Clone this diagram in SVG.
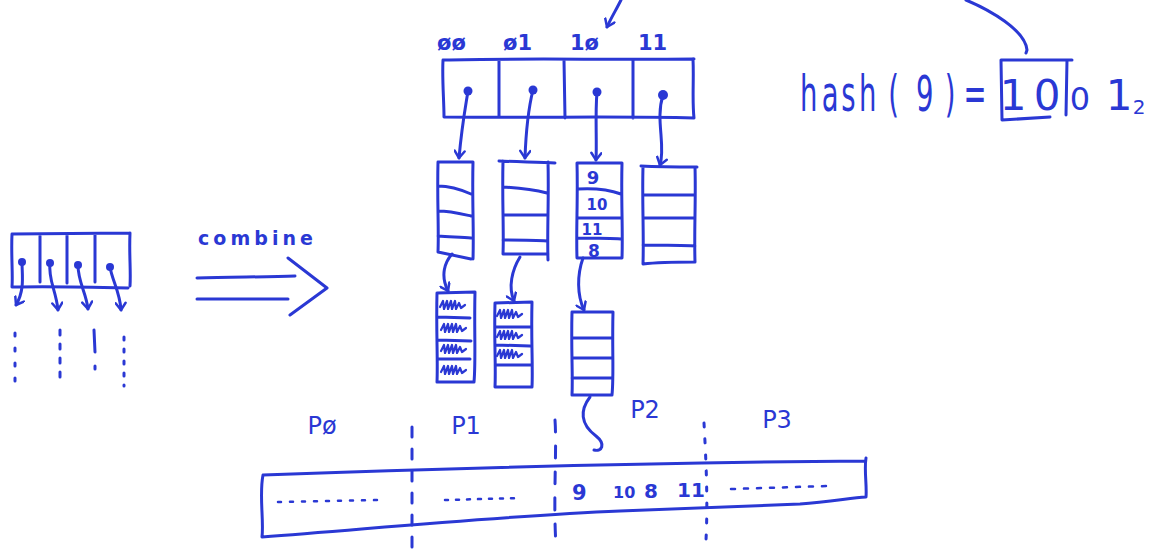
<svg xmlns="http://www.w3.org/2000/svg" width="1165" height="552" viewBox="0 0 1165 552">
<defs>
<style>
.s{fill:none;stroke:#2a38d4;stroke-width:3;stroke-linecap:round;stroke-linejoin:round}
.t{fill:#2a38d4;font-family:"DejaVu Sans",sans-serif}
.d{fill:#2a38d4}
.dash{fill:none;stroke:#2a38d4;stroke-width:3;stroke-linecap:round}
.dl{fill:none;stroke:#2a38d4;stroke-width:2.5;stroke-linecap:round}
.scr{fill:none;stroke:#2a38d4;stroke-width:2.2;stroke-linecap:round;stroke-linejoin:round}
</style>
<marker id="ah" viewBox="0 0 12 12" refX="10" refY="6" markerWidth="12" markerHeight="12" markerUnits="userSpaceOnUse" orient="auto">
<path d="M3,1 L10,6 L3,11" fill="none" stroke="#2a38d4" stroke-width="2.5" stroke-linecap="round" stroke-linejoin="round"/>
</marker>
<path id="scr" d="M0,6 l3,-6 l1,8 l3,-8 l1,8 l3,-8 l1,8 l3,-8 l1,8 l3,-6 l2,5 l4,-3"/>
</defs>
<rect width="1165" height="552" fill="#ffffff"/>

<g id="hashTable">
<path class="s" d="M443,60 C520,58 610,60 694,59 M443,60 C442,80 444,100 444,117 C540,118 620,116 694,118 M693,59 C694,80 692,100 694,118 M499,60 L499,117 M564,60 L565,118 M633,60 L633,118"/>
<circle class="d" cx="468" cy="91" r="4.5"/>
<circle class="d" cx="533" cy="90" r="4.5"/>
<circle class="d" cx="597" cy="92" r="4.5"/>
<circle class="d" cx="663" cy="95" r="5"/>
<text class="t" x="437" y="50" font-size="21" font-weight="bold">øø</text>
<text class="t" x="503" y="50" font-size="21" font-weight="bold">ø1</text>
<text class="t" x="570" y="50" font-size="21" font-weight="bold">1ø</text>
<text class="t" x="638" y="50" font-size="21" font-weight="bold">11</text>
</g>

<g id="bucket1">
<path class="s" d="M438,162 L473,162 M438,162 C437,200 439,230 438,252 L471,259 M473,162 C472,200 474,230 473,259 M438,186 C450,186 462,190 471,194 M438,211 C450,211 462,214 471,216 M438,236 C450,237 462,237 471,238"/>
</g>
<g id="bucket2">
<path class="s" d="M499,161 C520,162 540,162 555,163 M503,161 C502,200 504,230 503,254 L548,254 M548,162 C549,200 547,230 548,260 M503,187 C520,188 535,190 547,193 M503,215 L547,215 M503,240 C520,240 535,240 547,241"/>
</g>
<g id="bucket3">
<path class="s" d="M577,163 L622,163 M577,163 C578,200 576,230 577,258 L621,258 M622,163 C621,200 623,230 622,258 M578,189 C595,188 610,190 621,194 M578,218 L621,218 M578,238 C595,238 610,238 621,239"/>
<text class="t" x="593" y="184" font-size="18" font-weight="bold" text-anchor="middle">9</text>
<text class="t" x="597" y="210" font-size="15" font-weight="bold" text-anchor="middle">10</text>
<text class="t" x="592" y="235" font-size="15" font-weight="bold" text-anchor="middle">11</text>
<text class="t" x="594" y="257" font-size="17" font-weight="bold" text-anchor="middle">8</text>
</g>
<g id="bucket4">
<path class="s" d="M641,166 C660,167 680,167 697,167 M643,167 C642,200 644,235 643,264 C660,262 680,262 695,262 M695,167 C696,200 694,230 695,262 M643,195 L695,195 M643,218 L695,218 M643,245 C660,245 680,245 695,246"/>
</g>

<g id="overflow1">
<path class="s" d="M437,293 L475,292 M437,293 C436,330 438,360 437,382 L474,382 M475,292 C474,330 476,360 474,382 M438,317 L470,318 M438,340 L471,341 M438,359 L470,359"/>
<use href="#scr" class="scr" x="440" y="301"/>
<use href="#scr" class="scr" x="441" y="324"/>
<use href="#scr" class="scr" x="441" y="345"/>
<use href="#scr" class="scr" x="441" y="366"/>
</g>
<g id="overflow2">
<path class="s" d="M495,303 L532,302 M495,303 C494,340 496,365 495,387 L532,387 M532,302 C531,340 533,365 532,387 M496,327 L530,327 M496,345 L530,346 M496,365 L531,365"/>
<use href="#scr" class="scr" x="497" y="310"/>
<use href="#scr" class="scr" x="497" y="331"/>
<use href="#scr" class="scr" x="497" y="350"/>
</g>
<g id="overflow3">
<path class="s" d="M572,312 L613,312 M572,312 C571,350 573,375 572,395 L612,395 M613,312 C612,350 614,375 612,395 M572,338 L612,338 M572,358 L612,358 M572,378 L612,378"/>
</g>

<g id="hashText">
<text class="t" font-size="50" text-anchor="middle" transform="translate(800,0) scale(0.55,1)" y="111" x="16 55 88 123 170 227 273 318">hash(9)=</text>
<path class="s" d="M1001,60 L1072,60 M1001,60 L1002,120 L1050,117 M1067,60 L1066,115"/>
<text class="t" font-size="42" text-anchor="middle" y="110" x="1013 1047">10</text>
<text class="t" font-size="32" text-anchor="middle" y="110" x="1080">0</text>
<text class="t" font-size="42" text-anchor="middle" y="110" x="1119">1</text>
<text class="t" font-size="20" text-anchor="middle" y="114" x="1139">2</text>
</g>

<g id="leftTable">
<path class="s" d="M12,234 L130,233 M12,234 C11,255 13,275 12,287 C50,286 90,287 128,288 M130,233 C129,255 131,270 130,286 M40,236 L40,282 M67,235 L67,283 M95,235 L95,282"/>
<circle class="d" cx="22" cy="262" r="4"/>
<circle class="d" cx="50" cy="263" r="4"/>
<circle class="d" cx="78" cy="265" r="4"/>
<circle class="d" cx="110" cy="267" r="4"/>
<path class="dash" stroke-dasharray="3 12" d="M15,333 L15,385"/>
<path class="dash" stroke-dasharray="5 9" d="M60,330 L60,381"/>
<path class="dash" d="M94,330 L95,352 M95,366 L95,369"/>
<path class="dash" stroke-dasharray="3 9" d="M124,337 L124,386"/>
</g>

<g id="combineArrow">
<text class="t" x="198" y="245" font-size="19" font-weight="bold" textLength="115">combine</text>
<path class="s" d="M197,278 C230,277 265,277 295,276 M197,299 C230,299 260,299 288,299 M288,258 L327,288 L290,315"/>
</g>

<g id="partitionBar">
<path class="s" d="M263,475 C400,470 600,463 865,461 M263,475 C259,495 264,520 262,537 C380,528 500,516 620,511 C700,508 780,505 800,504 C830,502 850,498 866,497 M866,458 C864,470 867,485 866,497"/>
<path class="dash" stroke-dasharray="10 12" d="M412,427 L412,552"/>
<path class="dash" stroke-dasharray="12 14" d="M555,420 C557,450 553,500 556,545"/>
<path class="dash" stroke-dasharray="4 12" d="M704,423 C706,460 708,500 706,540"/>
<text class="t" x="322" y="434" font-size="24" text-anchor="middle">Pø</text>
<text class="t" x="466" y="434" font-size="24" text-anchor="middle">P1</text>
<text class="t" x="645" y="418" font-size="24" text-anchor="middle">P2</text>
<text class="t" x="777" y="428" font-size="24" text-anchor="middle">P3</text>
<path class="dl" stroke-dasharray="3 9" d="M278,502 L380,500"/>
<path class="dl" stroke-dasharray="3 8" d="M445,500 L520,498"/>
<text class="t" x="572" y="500" font-size="21" font-weight="bold">9</text>
<text class="t" x="613" y="498" font-size="16" font-weight="bold">10</text>
<text class="t" x="644" y="498" font-size="20" font-weight="bold">8</text>
<text class="t" x="677" y="497" font-size="20" font-weight="bold">11</text>
<path class="dl" stroke-dasharray="4 9" d="M731,489 L828,486"/>
</g>

<g id="connectors">
<path class="s" marker-end="url(#ah)" d="M468,91 C465,110 462,125 459,158"/>
<path class="s" marker-end="url(#ah)" d="M533,90 C528,110 526,130 525,158"/>
<path class="s" marker-end="url(#ah)" d="M597,92 C595,115 597,140 596,160"/>
<path class="s" marker-end="url(#ah)" d="M663,95 C655,120 666,145 660,165"/>
<path class="s" marker-end="url(#ah)" d="M452,254 C445,262 440,275 448,291"/>
<path class="s" marker-end="url(#ah)" d="M520,257 C512,270 508,287 514,301"/>
<path class="s" marker-end="url(#ah)" d="M583,258 C577,275 577,295 584,310"/>
<path class="s" d="M590,397 C580,410 580,424 596,436 C606,444 602,452 594,450"/>
<path class="s" marker-end="url(#ah)" d="M621,0 C616,10 611,18 607,27"/>
<path class="s" d="M966,0 C990,10 1025,30 1027,50 L1026,53"/>
<path class="s" marker-end="url(#ah)" d="M22,262 C22,275 25,290 16,305"/>
<path class="s" marker-end="url(#ah)" d="M50,263 C48,280 56,290 58,310"/>
<path class="s" marker-end="url(#ah)" d="M78,265 C78,282 86,292 88,309"/>
<path class="s" marker-end="url(#ah)" d="M110,267 C112,280 120,292 121,310"/>
</g>
</svg>
